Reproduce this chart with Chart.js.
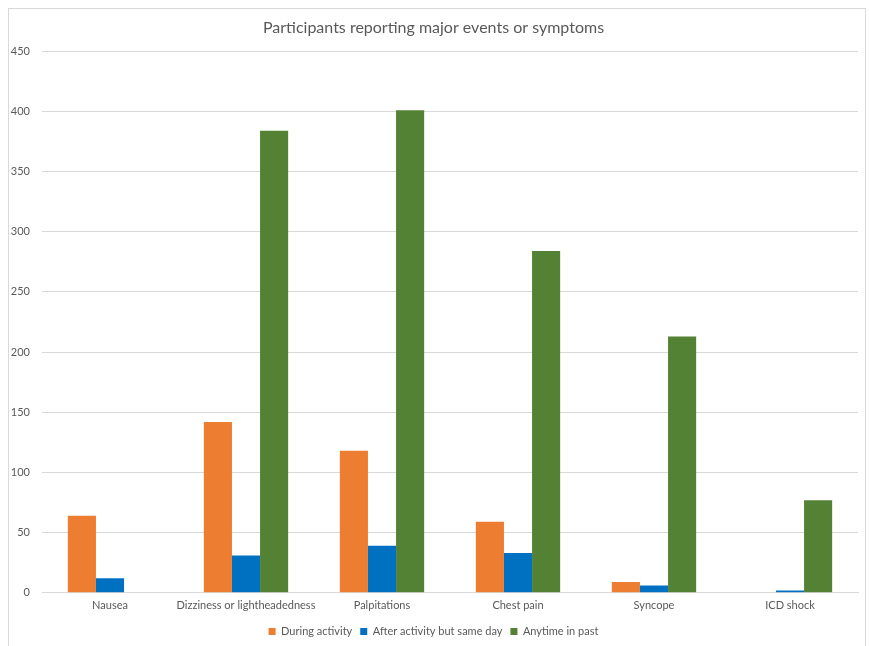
<!DOCTYPE html>
<html>
<head>
<meta charset="utf-8">
<script src="https://cdn.jsdelivr.net/npm/chart.js@4"></script>
<style>
  html, body { margin: 0; padding: 0; background: #fff; }
  #frame {
    position: absolute;
    left: 8px; top: 8px;
    width: 856px; height: 640px;
    border: 1px solid #d9d9d9;
  }
  #frame canvas { display: block; }
</style>
</head>
<body>
<div id="frame"><canvas id="eventsChart" width="856" height="640"></canvas></div>
<script>
const categories = ['Nausea', 'Dizziness or lightheadedness', 'Palpitations', 'Chest pain', 'Syncope', 'ICD shock'];
const duringActivity = [64, 142, 118, 59, 9, 0];
const afterSameDay = [12, 31, 39, 33, 6, 2];
const anytimePast = [0, 384, 401, 284, 213, 77];
const yTicks = [0, 50, 100, 150, 200, 250, 300, 350, 400, 450];

const textColor = '#595959';
const font = 'Lato, "Open Sans", sans-serif';

function makeSeries(label, data, color) {
  return {
    label,
    data,
    backgroundColor: color,
    borderWidth: 0,
    barPercentage: 1.0,
    categoryPercentage: 0.62
  };
}

new Chart(document.getElementById('eventsChart'), {
  type: 'bar',
  data: {
    labels: categories,
    datasets: [
      makeSeries('During activity', duringActivity, '#ED7D31'),
      makeSeries('After activity but same day', afterSameDay, '#0070C0'),
      makeSeries('Anytime in past', anytimePast, '#548235')
    ]
  },
  options: {
    responsive: false,
    animation: false,
    layout: {
      padding: { left: 0, right: 7, top: 6, bottom: 2 }
    },
    plugins: {
      title: {
        display: true,
        text: 'Participants reporting major events or symptoms',
        color: textColor,
        font: { family: font, size: 16, weight: 'normal' },
        padding: { top: 3, bottom: 14 }
      },
      legend: {
        position: 'bottom',
        labels: {
          color: textColor,
          font: { family: font, size: 11 },
          boxWidth: 7,
          boxHeight: 7,
          padding: 8
        }
      },
      tooltip: { enabled: false }
    },
    scales: {
      x: {
        grid: { display: false, drawTicks: false },
        border: { color: '#d9d9d9', width: 1 },
        ticks: {
          color: textColor,
          font: { family: font, size: 11 },
          padding: 6,
          autoSkip: false,
          maxRotation: 0
        }
      },
      y: {
        min: 0,
        max: 450,
        afterBuildTicks: (axis) => {
          axis.ticks = yTicks.map(v => ({ value: v }));
        },
        afterFit: (axis) => {
          axis.width = 33;
        },
        grid: { color: '#d9d9d9', drawTicks: false },
        border: { display: false },
        ticks: {
          color: textColor,
          font: { family: font, size: 11 },
          padding: 12
        }
      }
    }
  }
});
</script>
</body>
</html>
